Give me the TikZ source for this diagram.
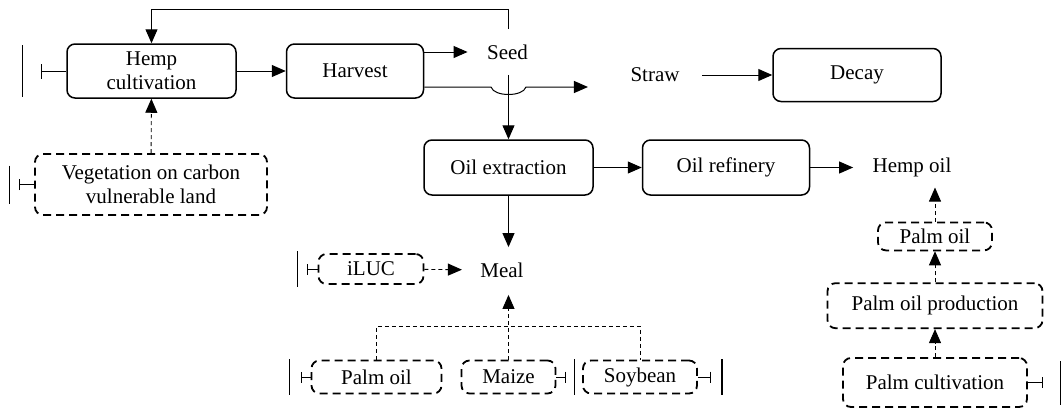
\documentclass[tikz,border=0pt]{standalone}
\usepackage{fontspec}
\setmainfont{Liberation Serif}
\usetikzlibrary{positioning,arrows.meta}

\begin{document}
\begin{tikzpicture}[
x=1pt, y=-1pt,
every node/.style={font=\fontsize{21}{24}\selectfont, align=center},
procbox/.style={draw, line width=1.5pt, rounded corners=8pt, minimum height=54pt},
extbox/.style={draw, line width=1.8pt, dash pattern=on 8pt off 5pt, rounded corners=8pt, minimum height=30pt},
flowline/.style={line width=1pt, -{Triangle[length=14pt,width=12pt]}},
dashline/.style={line width=0.9pt, dash pattern=on 4pt off 3pt},
dashflow/.style={dashline, -{Triangle[length=14pt,width=12pt]}},
stub/.style={line width=1pt, {Bar[width=11pt]}-},
fence/.style={line width=1.2pt}
]
\useasboundingbox (0,0) rectangle (1061,410);

% hemp chain
\node[procbox, minimum width=169pt] (hemp) at (151.5,71) {Hemp\\cultivation};
\node[procbox, minimum width=137pt, right=49pt of hemp] (harvest) {Harvest};
\node (seed) at (507.5,52) {Seed};
\node (straw) at (655,75) {Straw};
\node[procbox, minimum width=168pt, minimum height=53pt] (decay) at (857,75) {Decay};
\node[procbox, minimum width=169pt, minimum height=55pt] (oilx) at (508.5,167.5) {Oil extraction};
\node[procbox, minimum width=167pt, minimum height=55pt, right=48pt of oilx] (refine) {Oil refinery};
\node (hempoil) at (912,167.5) {Hemp oil};
\node (meal) at (502,270) {Meal};

% displaced and substituted systems
\node[extbox, minimum width=232pt, minimum height=61pt] (veg) at (151,184.5) {Vegetation on carbon\\vulnerable land};
\node[extbox, minimum width=105pt] (iluc) at (371,269) {iLUC};
\node[extbox, minimum width=130pt, minimum height=33pt] (palmb) at (376.5,377) {Palm oil};
\node[extbox, minimum width=94pt, minimum height=33pt] (maize) at (508.5,377) {Maize};
\node[extbox, minimum width=114pt, minimum height=33pt] (soy) at (640,377) {Soybean};
\node[extbox, minimum width=184pt, minimum height=49pt] (palmcult) at (935,382.5) {Palm cultivation};
\node[extbox, minimum width=215pt, minimum height=45pt, above=28pt of palmcult] (palmprod) {Palm oil production};
\node[extbox, minimum width=114pt, minimum height=28pt, above=31pt of palmprod] (palmr) {Palm oil};

\coordinate (loop) at (hemp.north |- 0,9);
\coordinate (bus) at (maize |- 0,326);

\draw[flowline] (hemp) -- (harvest);
\draw[flowline, shorten >=16pt] (harvest.east |- seed) -- (seed);
\draw[flowline, shorten <=12pt] (oilx |- seed.north) |- (loop) -- (hemp);
\draw[flowline, shorten <=12pt] (oilx |- seed.south) -- (oilx);
% straw jumps over the seed line
\draw[flowline, shorten >=39pt] ([yshift=-16pt]harvest.east) -- (491,87)
  .. controls (494,97) and (523,97) .. (526,87) -- (straw.west |- 0,87);
\draw[flowline, shorten <=19pt] (straw) -- (decay);
\draw[flowline] (oilx) -- (refine);
\draw[flowline, shorten >=16pt] (refine) -- (hempoil);
\draw[flowline, shorten >=12pt] (oilx) -- (oilx |- meal.north);

\draw[dashflow] (veg) -- (hemp);
\draw[dashflow, shorten >=15pt] (iluc) -- (meal);
\draw[dashline] (palmb) |- (bus) -| (soy);
\draw[dashflow, shorten >=14pt] (maize) -- (maize |- meal.south);
\draw[dashflow] (palmcult) -- (palmprod);
\draw[dashflow] (palmprod) -- (palmr);
\draw[dashflow, shorten >=7pt] (palmr) -- (palmr |- hempoil.south);

% system boundaries
\draw[stub, {Bar[width=15pt]}-] ([xshift=-25pt]hemp.west) -- (hemp.west);
\draw[fence] ([xshift=-44pt]hemp.west) ++(0,-26) -- ++(0,52);
\draw[stub] ([xshift=-15pt]veg.west) -- (veg.west);
\draw[fence] ([xshift=-25pt]veg.west) ++(0,-19) -- ++(0,38);
\draw[stub] ([xshift=-11pt]iluc.west) -- (iluc.west);
\draw[fence] ([xshift=-20pt]iluc.west) ++(0,-18) -- ++(0,36);
\draw[stub] ([xshift=-10pt]palmb.west) -- (palmb.west);
\draw[fence] ([xshift=-21pt]palmb.west) ++(0,-18) -- ++(0,36);
\draw[stub] ([xshift=10pt]maize.east) -- (maize.east);
\draw[fence] ([xshift=18pt]maize.east) ++(0,-18) -- ++(0,36);
\draw[stub] ([xshift=13pt]soy.east) -- (soy.east);
\draw[fence] ([xshift=24pt]soy.east) ++(0,-18) -- ++(0,36);
\draw[stub] ([xshift=15pt]palmcult.east) -- (palmcult.east);
\draw[fence] ([xshift=33pt]palmcult.east) ++(0,-22) -- ++(0,44);
\end{tikzpicture}
\end{document}
